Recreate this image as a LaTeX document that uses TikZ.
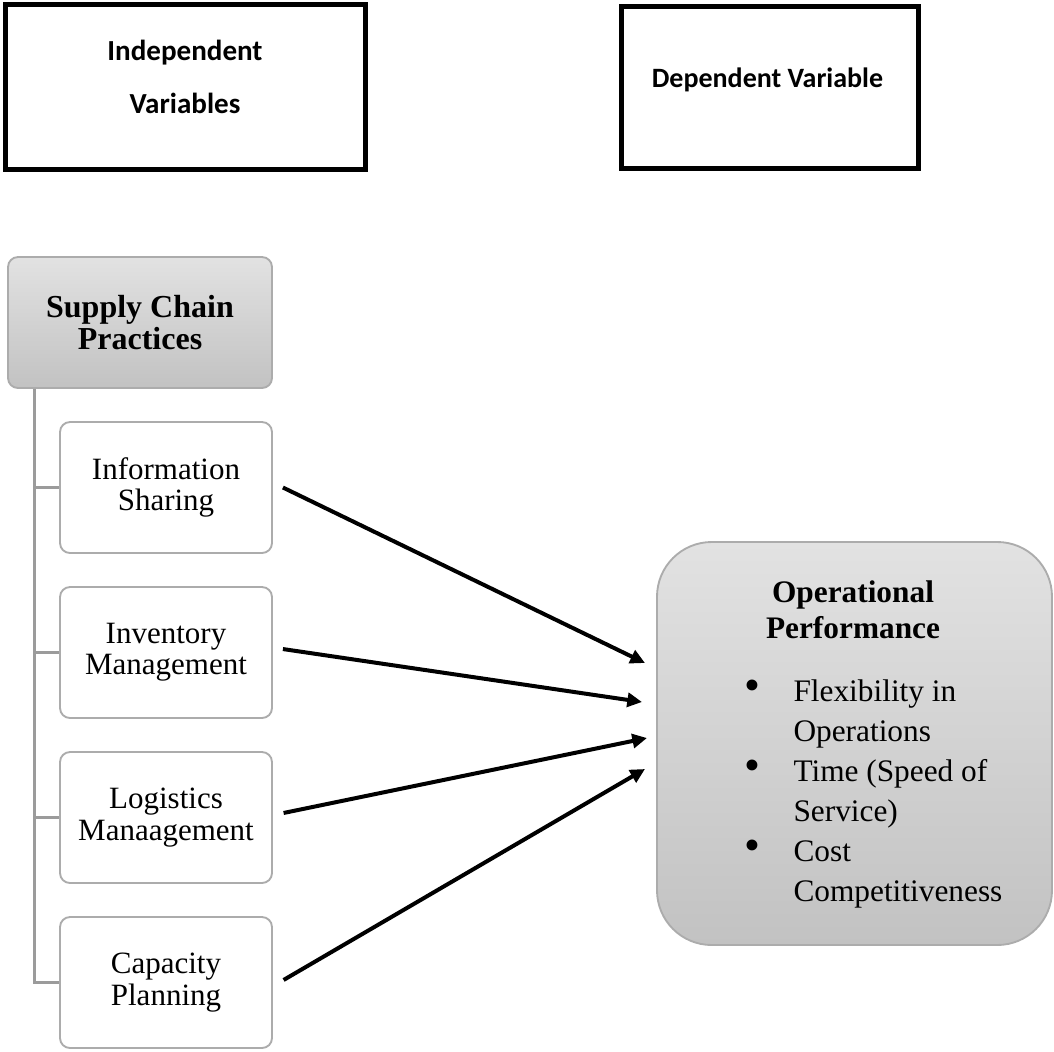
\documentclass[tikz,border=0pt]{standalone}
\usepackage{fontspec}
\setmainfont{Liberation Serif}
\newfontfamily\calibrifont{Carlito}
\usetikzlibrary{arrows.meta,calc}
\definecolor{boxline}{RGB}{172,172,172}
\definecolor{trunkc}{RGB}{155,155,155}
\definecolor{gtop}{RGB}{226,226,226}
\definecolor{gbot}{RGB}{194,194,194}
\newcommand{\bigbul}{\raisebox{0.5pt}{\scalebox{1.45}{\textbullet}}}
\begin{document}
\begin{tikzpicture}[x=0.75pt,y=-0.75pt,
  hdr/.style={draw=black,line width=3.75pt,inner sep=0pt,fill=white},
  hdrtext/.style={font={\calibrifont\bfseries\fontsize{21pt}{39.75pt}\selectfont},align=center,inner sep=0pt},
  graybox/.style={draw=boxline,line width=1.4pt,top color=gtop,bottom color=gbot,inner sep=0pt,align=center},
  childbox/.style={draw=boxline,line width=1.4pt,fill=white,rounded corners=7.5pt,inner sep=0pt,align=center,
    minimum width=159pt,minimum height=98.25pt,font={\fontsize{23.25pt}{23.5pt}\selectfont}},
  trunk/.style={draw=trunkc,line width=2.2pt},
  arr/.style={line width=3pt,-{Triangle[length=11pt,width=10.5pt]}}
]
\useasboundingbox (0,0) rectangle (1054,1051);

% header boxes
\node[hdr,minimum width=270pt,minimum height=123.75pt] (indep) at (185,86.5) {};
\node[hdrtext,font={\calibrifont\bfseries\fontsize{21.8pt}{39.75pt}\selectfont}] (indepT) at (185,76.5) {Independent\\Variables};
\node[hdr,minimum width=222.75pt,minimum height=121.5pt] (dep) at (769.5,87) {};
\node[hdrtext] (depT) at (767.5,80) {Dependent Variable};

% supply chain practices
\node[graybox,rounded corners=7.5pt,minimum width=198pt,minimum height=98.25pt,
  font={\bfseries\fontsize{24pt}{23.5pt}\selectfont}] (scp) at (140,322.5) {Supply Chain\\Practices};

\node[childbox] (info) at (166,487.5) {Information\\Sharing};
\node[childbox] (inv)  at (166,652.5) {Inventory\\Management};
\node[childbox] (log)  at (166,817.5) {Logistics\\Manaagement};
\node[childbox] (cap)  at (166,982.5) {Capacity\\Planning};

\coordinate (tr) at ([xshift=20.25pt]scp.south west);
\draw[trunk] (tr) -- (tr |- cap.west) -- (cap.west);
\draw[trunk] (tr |- info.west) -- (info.west);
\draw[trunk] (tr |- inv.west) -- (inv.west);
\draw[trunk] (tr |- log.west) -- (log.west);

% operational performance
\node[graybox,rounded corners=41pt,minimum width=296.25pt,minimum height=302.25pt] (op) at (854.5,743.5) {};
\node[inner sep=0pt,align=center,font={\bfseries\fontsize{23.5pt}{27pt}\selectfont}] (opT) at (853,610) {Operational\\Performance};
\node[inner sep=0pt,anchor=west,font={\fontsize{23.5pt}{30pt}\selectfont}] (opB) at (744,793) {%
  \begin{tabular}{@{}l@{\hspace{25pt}}l@{}}
  \bigbul & Flexibility in\\
   & Operations\\
  \bigbul & Time (Speed of\\
   & Service)\\
  \bigbul & Cost\\
   & Competitiveness
  \end{tabular}};

% arrows
\coordinate (t1) at (645,663);
\coordinate (t2) at (642,702);
\coordinate (t3) at (647,738);
\coordinate (t4) at (645,769);
\draw[arr] ([xshift=7.5pt]info.east) -- (t1);
\draw[arr] ([xshift=7.5pt,yshift=2.6pt]inv.east) -- (t2);
\draw[arr] ([xshift=8pt,yshift=3.4pt]log.east) -- (t3);
\draw[arr] ([xshift=8pt,yshift=1.9pt]cap.east) -- (t4);
\end{tikzpicture}
\end{document}
